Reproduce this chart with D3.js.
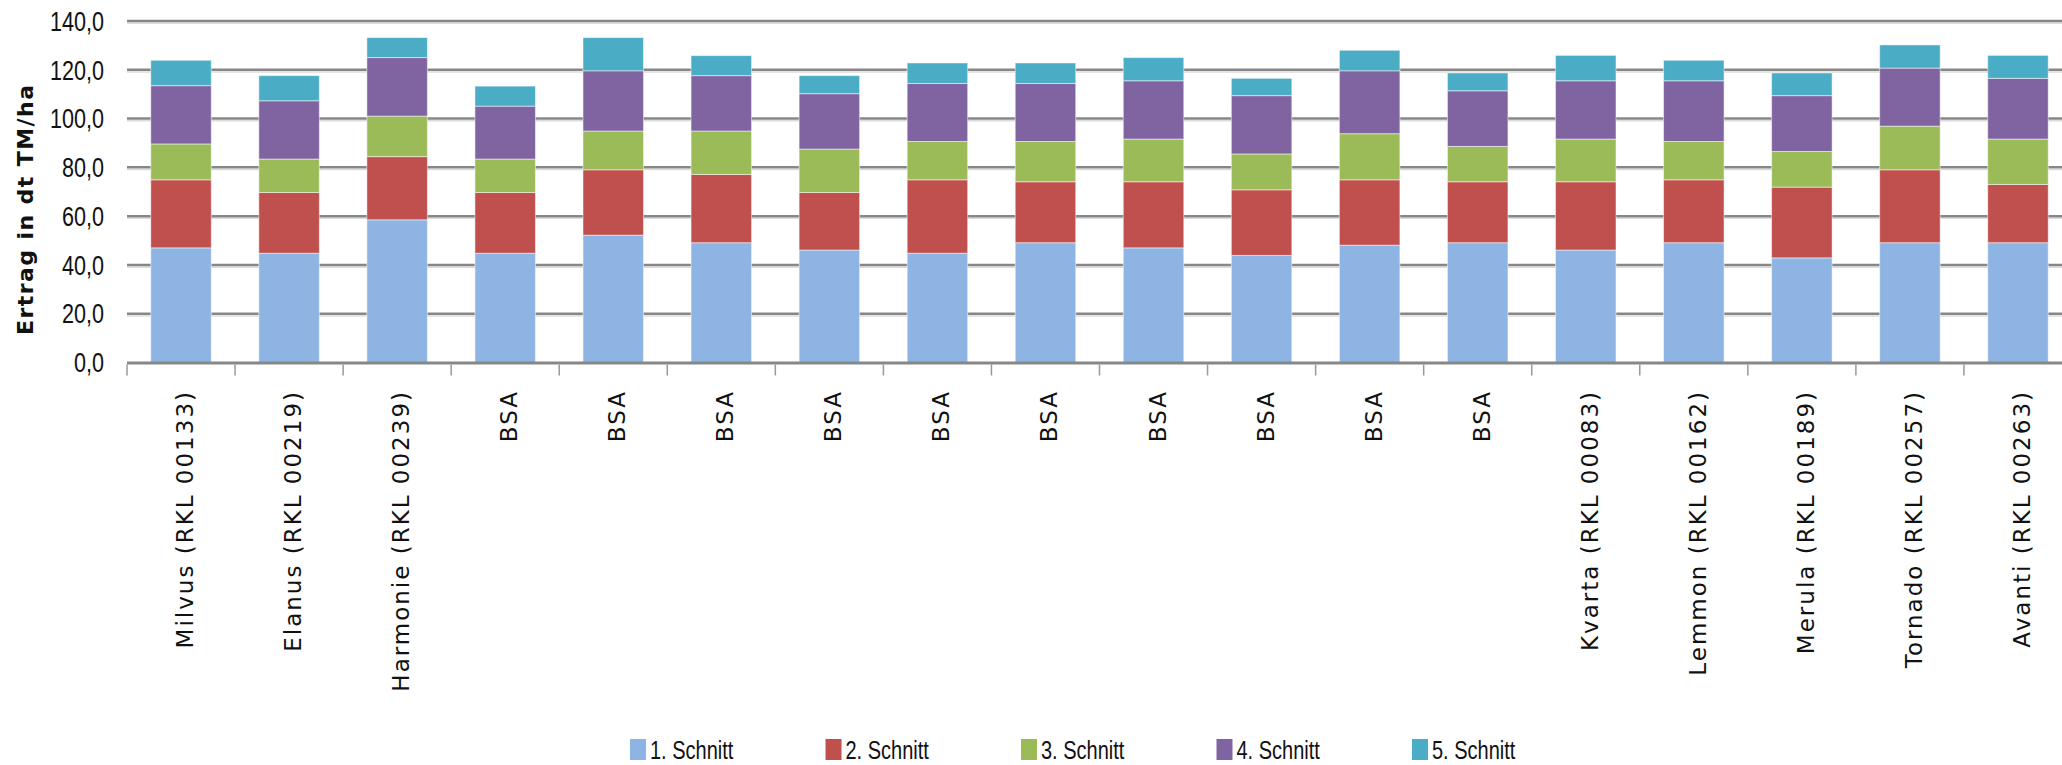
<!DOCTYPE html>
<html>
<head>
<meta charset="utf-8">
<title>Ertrag Schnitte</title>
<script src="https://cdn.jsdelivr.net/npm/d3@7/dist/d3.min.js"></script>
<style>
  body { margin: 0; background: #fff; }
  .ytick { font-family: "Liberation Sans", Arial, sans-serif; font-size: 27px; fill: #111; }
  .cat { font-family: "DejaVu Sans", Verdana, sans-serif; font-size: 23px; letter-spacing: 2px; fill: #111; }
  .ytitle { font-family: "DejaVu Sans", Verdana, sans-serif; font-size: 22px; font-weight: bold; fill: #111; }
  .leg { font-family: "Liberation Sans", Arial, sans-serif; font-size: 25px; fill: #111; }
</style>
</head>
<body>
<svg width="2062" height="765"></svg>
<script>
// categories (Sorten)
var categories = [
  "Milvus (RKL 00133)", "Elanus (RKL 00219)", "Harmonie (RKL 00239)",
  "BSA", "BSA", "BSA", "BSA", "BSA", "BSA", "BSA", "BSA", "BSA", "BSA",
  "Kvarta (RKL 00083)", "Lemmon (RKL 00162)", "Merula (RKL 00189)",
  "Tornado (RKL 00257)", "Avanti (RKL 00263)"
];
var seriesNames = ["1. Schnitt", "2. Schnitt", "3. Schnitt", "4. Schnitt", "5. Schnitt"];
var colors = ["#8EB4E3", "#C0504D", "#9BBB59", "#8064A2", "#4BACC6"];

// Ertrag je Schnitt in dt TM/ha
var schnitt1 = [47.0, 44.8, 58.5, 44.8, 52.2, 49.1, 46.1, 44.8, 49.1, 47.0, 43.9, 48.1, 49.1, 46.1, 49.1, 42.9, 49.1, 49.1];
var schnitt2 = [27.9, 24.9, 25.9, 24.9, 26.8, 28.0, 23.6, 30.1, 25.0, 27.1, 26.9, 26.8, 25.0, 28.0, 25.8, 29.0, 29.9, 23.9];
var schnitt3 = [14.7, 13.7, 16.6, 13.7, 15.9, 17.8, 17.8, 15.7, 16.5, 17.5, 14.7, 18.9, 14.5, 17.5, 15.7, 14.6, 17.9, 18.6];
var schnitt4 = [23.9, 23.9, 24.0, 21.7, 24.7, 22.7, 22.7, 23.8, 23.8, 23.9, 23.9, 25.8, 22.8, 23.9, 24.9, 22.9, 23.8, 24.9];
var schnitt5 = [10.4, 10.3, 8.2, 8.2, 13.6, 8.2, 7.4, 8.4, 8.4, 9.5, 7.1, 8.4, 7.3, 10.4, 8.4, 9.3, 9.5, 9.4];

var yTicks = [0, 20, 40, 60, 80, 100, 120, 140];

var allSeries = [schnitt1, schnitt2, schnitt3, schnitt4, schnitt5];
var rows = categories.map(function(c, i) {
  var r = { idx: i };
  seriesNames.forEach(function(s, j) { r[s] = allSeries[j][i]; });
  return r;
});

var svg = d3.select("svg");

var x = d3.scaleBand()
  .domain(d3.range(categories.length))
  .range([127, 2072])
  .paddingInner(0.44)
  .paddingOuter(0.22);

var y = d3.scaleLinear().domain([0, 140]).range([362.5, 21]);

// the original uses a condensed face; squeeze regular glyphs horizontally
var narrow = 0.8;

// gridlines
var grid = svg.append("g");
yTicks.filter(function(t) { return t > 0; }).forEach(function(t) {
  grid.append("line")
    .attr("x1", 127).attr("x2", 2062)
    .attr("y1", y(t) + 2.2).attr("y2", y(t) + 2.2)
    .attr("stroke", "#dcdcdc").attr("stroke-width", 1.5);
  grid.append("line")
    .attr("x1", 127).attr("x2", 2062)
    .attr("y1", y(t)).attr("y2", y(t))
    .attr("stroke", "#878787").attr("stroke-width", 2.5);
});

// stacked bars
var stack = d3.stack().keys(seriesNames);
var stacked = stack(rows);

svg.append("g")
  .selectAll("g")
  .data(stacked)
  .enter()
  .append("g")
  .attr("fill", function(d, i) { return colors[i]; })
  .selectAll("rect")
  .data(function(d) { return d; })
  .enter()
  .append("rect")
  .attr("x", function(d) { return x(d.data.idx); })
  .attr("width", x.bandwidth())
  .attr("y", function(d) { return y(d[1]); })
  .attr("height", function(d) { return y(d[0]) - y(d[1]); })
  .attr("stroke", "#ffffff")
  .attr("stroke-opacity", 0.5)
  .attr("stroke-width", 1);

// x axis line + ticks at category boundaries
var xAxis = svg.append("g");
xAxis.append("line")
  .attr("x1", 127).attr("x2", 2062)
  .attr("y1", y(0) + 0.5).attr("y2", y(0) + 0.5)
  .attr("stroke", "#878787").attr("stroke-width", 3);
d3.range(categories.length + 1).forEach(function(i) {
  var tx = 127 + i * x.step();
  xAxis.append("line")
    .attr("x1", tx).attr("x2", tx)
    .attr("y1", y(0) + 2).attr("y2", y(0) + 13)
    .attr("stroke", "#999").attr("stroke-width", 1.5);
});

// y tick labels
svg.append("g")
  .selectAll("text")
  .data(yTicks)
  .enter()
  .append("text")
  .attr("class", "ytick")
  .attr("transform", function(d) { return "translate(104," + y(d) + ") scale(" + narrow + ",1)"; })
  .attr("dy", "0.36em")
  .attr("text-anchor", "end")
  .text(function(d) { return d3.format(".1f")(d).replace(".", ","); });

// y title
svg.append("text")
  .attr("class", "ytitle")
  .attr("transform", "translate(33,210) rotate(-90)")
  .attr("text-anchor", "middle")
  .attr("textLength", 250)
  .attr("lengthAdjust", "spacing")
  .text("Ertrag in dt TM/ha");

// category labels
svg.append("g")
  .selectAll("text")
  .data(categories)
  .enter()
  .append("text")
  .attr("class", "cat")
  .attr("text-anchor", "end")
  .attr("transform", function(d, i) {
    var cx = x(i) + x.bandwidth() / 2;
    return "translate(" + (cx + 12) + ",390) rotate(-90)";
  })
  .text(function(d) { return d; });

// legend
var legend = svg.append("g");
seriesNames.forEach(function(s, i) {
  var lx = 630 + i * 195.5;
  legend.append("rect")
    .attr("x", lx).attr("y", 739)
    .attr("width", 16).attr("height", 21)
    .attr("fill", colors[i]);
  legend.append("text")
    .attr("class", "leg")
    .attr("transform", "translate(" + (lx + 20) + ",750) scale(" + narrow + ",1)")
    .attr("dy", "0.36em")
    .text(s);
});
</script>
</body>
</html>
